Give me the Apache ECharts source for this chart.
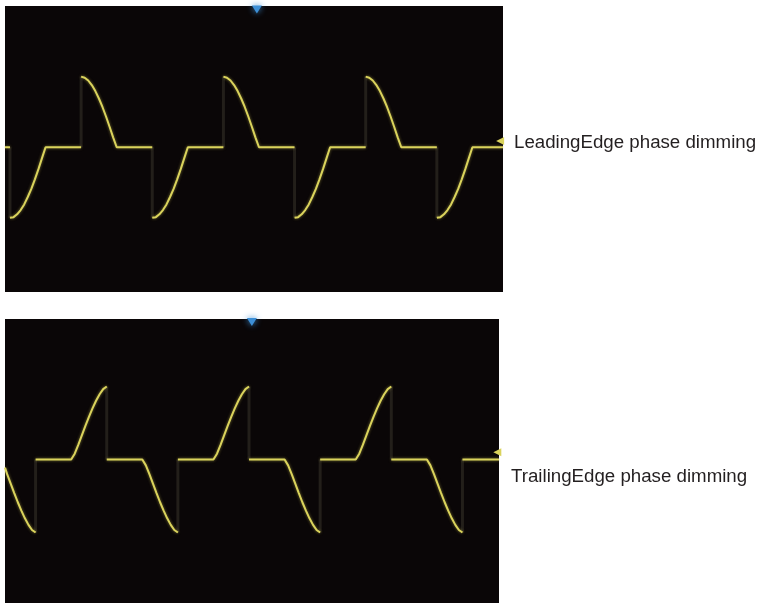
<!DOCTYPE html>
<html>
<head>
<meta charset="utf-8">
<script src="https://cdn.jsdelivr.net/npm/echarts@6/dist/echarts.min.js"></script>
<style>
html,body{margin:0;padding:0;background:#ffffff;}
#chart{width:761px;height:603px;}
</style>
</head>
<body>
<div id="chart"></div>
<script>
// ---- Data (time in ms, voltage in arbitrary units) ----
const panelLabels = ['LeadingEdge phase dimming', 'TrailingEdge phase dimming'];

// Leading-edge (top) waveform: consecutive points with equal time are the vertical firing jumps
const leadTime = [
  0, 0.7,
  0.7, 1.2, 1.7, 2.2, 2.7, 3.2, 3.7, 4.2, 4.7, 5.2, 5.7,
  10.7, 10.7, 11.2, 11.7, 12.2, 12.7, 13.2, 13.7, 14.2, 14.7, 15.2, 15.7,
  20.7, 20.7, 21.2, 21.7, 22.2, 22.7, 23.2, 23.7, 24.2, 24.7, 25.2, 25.7,
  30.7, 30.7, 31.2, 31.7, 32.2, 32.7, 33.2, 33.7, 34.2, 34.7, 35.2, 35.7,
  40.7, 40.7, 41.2, 41.7, 42.2, 42.7, 43.2, 43.7, 44.2, 44.7, 45.2, 45.7,
  50.7, 50.7, 51.2, 51.7, 52.2, 52.7, 53.2, 53.7, 54.2, 54.7, 55.2, 55.7,
  60.7, 60.7, 61.2, 61.7, 62.2, 62.7, 63.2, 63.7, 64.2, 64.7, 65.2, 65.7,
  70
];
const leadVolt = [
  0, 0,
  -2.0, -1.98, -1.90, -1.78, -1.62, -1.41, -1.18, -0.91, -0.62, -0.31, 0,
  0, 2.0, 1.97, 1.89, 1.76, 1.59, 1.38, 1.14, 0.87, 0.58, 0.28, 0,
  0, -2.0, -1.98, -1.90, -1.78, -1.62, -1.41, -1.18, -0.91, -0.62, -0.31, 0,
  0, 2.0, 1.97, 1.89, 1.76, 1.59, 1.38, 1.14, 0.87, 0.58, 0.28, 0,
  0, -2.0, -1.98, -1.90, -1.78, -1.62, -1.41, -1.18, -0.91, -0.62, -0.31, 0,
  0, 2.0, 1.97, 1.89, 1.76, 1.59, 1.38, 1.14, 0.87, 0.58, 0.28, 0,
  0, -2.0, -1.98, -1.90, -1.78, -1.62, -1.41, -1.18, -0.91, -0.62, -0.31, 0,
  0
];

// Trailing-edge (bottom) waveform
const trailTime = [
  0, 0.3, 0.8, 1.3, 1.8, 2.3, 2.8, 3.3, 3.8, 4.3, 4.3,
  9.3, 9.8, 10.3, 10.8, 11.3, 11.8, 12.3, 12.8, 13.3, 13.8, 14.3, 14.3,
  19.3, 19.8, 20.3, 20.8, 21.3, 21.8, 22.3, 22.8, 23.3, 23.8, 24.3, 24.3,
  29.3, 29.8, 30.3, 30.8, 31.3, 31.8, 32.3, 32.8, 33.3, 33.8, 34.3, 34.3,
  39.3, 39.8, 40.3, 40.8, 41.3, 41.8, 42.3, 42.8, 43.3, 43.8, 44.3, 44.3,
  49.3, 49.8, 50.3, 50.8, 51.3, 51.8, 52.3, 52.8, 53.3, 53.8, 54.3, 54.3,
  59.3, 59.8, 60.3, 60.8, 61.3, 61.8, 62.3, 62.8, 63.3, 63.8, 64.3, 64.3,
  69.44
];
const trailVolt = [
  -0.22, -0.40, -0.66, -0.92, -1.17, -1.40, -1.61, -1.79, -1.93, -2.0, 0,
  0, 0.16, 0.40, 0.66, 0.92, 1.17, 1.40, 1.61, 1.79, 1.93, 2.0, 0,
  0, -0.16, -0.40, -0.66, -0.92, -1.17, -1.40, -1.61, -1.79, -1.93, -2.0, 0,
  0, 0.16, 0.40, 0.66, 0.92, 1.17, 1.40, 1.61, 1.79, 1.93, 2.0, 0,
  0, -0.16, -0.40, -0.66, -0.92, -1.17, -1.40, -1.61, -1.79, -1.93, -2.0, 0,
  0, 0.16, 0.40, 0.66, 0.92, 1.17, 1.40, 1.61, 1.79, 1.93, 2.0, 0,
  0, -0.16, -0.40, -0.66, -0.92, -1.17, -1.40, -1.61, -1.79, -1.93, -2.0, 0,
  0
];

// Scope markers: trigger position (top) and channel ground level (right)
const triggerMarker = [[35.4, 3.9], [34.7, 3.77]];
const levelMarker = [[69.6, 0.18], [69.2, 0.2]];

// ---- Build series data ----
function splitTrace(times, volts) {
  const main = [], jumps = [];
  for (let i = 0; i < times.length; i++) {
    main.push([times[i], volts[i]]);
    if (i + 1 < times.length && times[i + 1] === times[i]) {
      main.push([times[i], '-']);
      jumps.push([times[i], volts[i]], [times[i + 1], volts[i + 1]], [times[i], '-']);
    }
  }
  return { main, jumps };
}
const leadTrace = splitTrace(leadTime, leadVolt);
const trailTrace = splitTrace(trailTime, trailVolt);

const traceColor = '#dad35c';
const scopeBg = '#0a0607';

function traceSeries(idx, d, trig, lvl) {
  return [
    {
      type: 'line', xAxisIndex: idx, yAxisIndex: idx, data: d.jumps,
      symbol: 'none', silent: true, connectNulls: false,
      lineStyle: { color: 'rgba(100,96,74,0.28)', width: 3 }, z: 2
    },
    {
      type: 'line', xAxisIndex: idx, yAxisIndex: idx, data: d.main,
      symbol: 'none', silent: true, connectNulls: false,
      lineStyle: { color: traceColor, width: 2, shadowColor: 'rgba(220,210,90,0.55)', shadowBlur: 3 }, z: 3,
      markPoint: {
        silent: true, animation: false,
        label: { show: false },
        data: [
          { coord: trig, symbol: 'triangle', symbolRotate: 180, symbolSize: [10, 8],
            itemStyle: { color: '#3d8fd6', shadowColor: '#3d8fd6', shadowBlur: 6 } },
          { coord: lvl, symbol: 'triangle', symbolRotate: 90, symbolSize: [8, 8],
            itemStyle: { color: traceColor } }
        ]
      }
    }
  ];
}

const hiddenAxis = { show: false, splitLine: { show: false }, axisLine: { show: false } };

const chart = echarts.init(document.getElementById('chart'), null, { renderer: 'canvas' });
chart.setOption({
  animation: false,
  backgroundColor: '#ffffff',
  grid: [
    { left: 5, top: 6, width: 498, height: 286, show: true, backgroundColor: scopeBg, borderWidth: 0 },
    { left: 5, top: 319, width: 494, height: 284, show: true, backgroundColor: scopeBg, borderWidth: 0 }
  ],
  xAxis: [
    Object.assign({ type: 'value', gridIndex: 0, min: 0, max: 70 }, hiddenAxis),
    Object.assign({ type: 'value', gridIndex: 1, min: 0, max: 69.44 }, hiddenAxis)
  ],
  yAxis: [
    Object.assign({ type: 'value', gridIndex: 0, min: -4.1, max: 4.0 }, hiddenAxis),
    Object.assign({ type: 'value', gridIndex: 1, min: -3.93, max: 3.85 }, hiddenAxis)
  ],
  graphic: [
    { type: 'text', left: 514, top: 133, style: { text: panelLabels[0], fill: '#231f20',
      font: '18.7px "Liberation Sans", Arial, sans-serif' } },
    { type: 'text', left: 511, top: 467, style: { text: panelLabels[1], fill: '#231f20',
      font: '18.7px "Liberation Sans", Arial, sans-serif' } }
  ],
  series: [].concat(
    traceSeries(0, leadTrace, triggerMarker[0], levelMarker[0]),
    traceSeries(1, trailTrace, triggerMarker[1], levelMarker[1])
  )
});
</script>
</body>
</html>
